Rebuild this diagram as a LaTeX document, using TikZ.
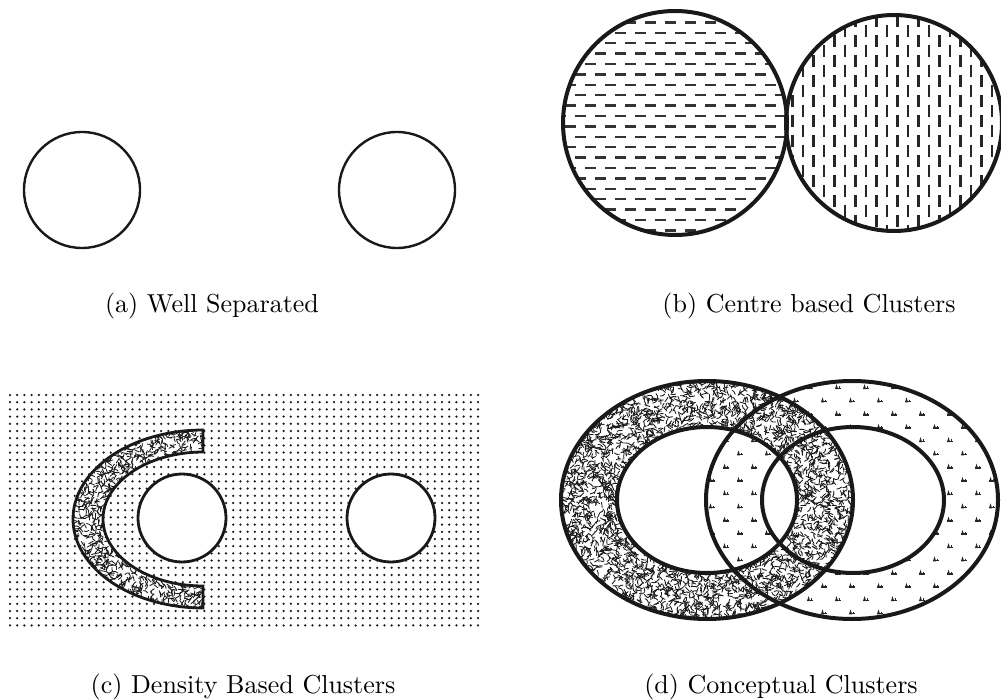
\documentclass[tikz,border=0pt]{standalone}
\begin{document}
\begin{tikzpicture}[x=1pt,y=-1pt,
  outa/.style={line width=2.4pt, draw=black!90},
  outb/.style={line width=4pt, draw=black!90},
  outc/.style={line width=2.8pt, draw=black!90},
  outd/.style={line width=4pt, draw=black!90},
  hdash/.style={line width=2.3pt, draw=black!80, dash pattern=on 11pt off 9pt},
  vdash/.style={line width=2.3pt, draw=black!85, dash pattern=on 12pt off 8pt},
  dotrow/.style={line width=2.5pt, draw=black!90, line cap=round, dash pattern=on 0pt off 7.2pt},
  tex/.style={line width=0.85pt, draw=black!90, line cap=round, line join=round},
  mk/.style={fill=black!85},
  captext/.style={inner sep=0pt, anchor=base, scale=2.6, font=\fontsize{10}{12}\selectfont}]
\useasboundingbox (0,0) rectangle (1001,700);

% ---------- (a)
\draw[outa] (82,190) circle (58);
\draw[outa] (397,190) circle (58);
\node[captext] (capa) at (212,313) {(a) Well Separated};

% ---------- (b)
\begin{scope}
  \clip (675,123) circle (112);
  \foreach \j in {0,...,22} {
    \pgfmathsetmacro\yy{12+10.4*\j}
    \pgfmathsetmacro\ph{mod(\j,2)*10}
    \draw[hdash, dash phase=\ph pt] (555,\yy) -- (800,\yy);
  }
\end{scope}
\begin{scope}
  \clip (894,123) circle (108);
  \foreach \j in {0,...,22} {
    \pgfmathsetmacro\xx{782+10.5*\j}
    \pgfmathsetmacro\ph{mod(\j,2)*10}
    \draw[vdash, dash phase=\ph pt] (\xx,5) -- (\xx,245);
  }
\end{scope}
\draw[outb] (675,123) circle (112);
\draw[outb] (894,123) circle (108);
\node[captext] (capb) at (809,313) {(b) Centre based Clusters};

% ---------- (c)
\foreach \j in {0,...,32} {
  \pgfmathsetmacro\yy{395+7.2*\j}
  \draw[dotrow] (10,\yy) -- (483,\yy);
}
\fill[white] plot[domain=90:270,samples=80] ({203+130*cos(\x)},{519+89*sin(\x)})
   -- plot[domain=270:90,samples=80] ({203+100*cos(\x)},{519+67*sin(\x)}) -- cycle;
\begin{scope}
  \clip plot[domain=90:270,samples=80] ({203+130*cos(\x)},{519+89*sin(\x)})
   -- plot[domain=270:90,samples=80] ({203+100*cos(\x)},{519+67*sin(\x)}) -- cycle;
  \pgfmathsetseed{11}
  \foreach \i in {1,...,800} {
    \pgfmathsetmacro\ang{85+190*rnd}
    \pgfmathsetmacro\rr{sqrt(0.55+0.47*rnd)}
    \pgfmathsetmacro\dira{360*rnd}
    \pgfmathsetmacro\dirb{\dira+80*rnd-40}
    \draw[tex] ({203+131*\rr*cos(\ang)},{519+90*\rr*sin(\ang)}) -- ++(\dira:2.6) -- ++(\dirb:2.6);
  }
\end{scope}
\draw[outc] plot[domain=90:270,samples=80] ({203+130*cos(\x)},{519+89*sin(\x)})
   -- plot[domain=270:90,samples=80] ({203+100*cos(\x)},{519+67*sin(\x)}) -- cycle;
\draw[outc, fill=white] (182,518) circle (44);
\draw[outc, fill=white] (391,518) circle (44);
\node[captext] (capc) at (243,693) {(c) Density Based Clusters};

% ---------- (d)
\begin{scope}[even odd rule]
  \clip (852,500) ellipse [x radius=146, y radius=119]
        (852,500) ellipse [x radius=91, y radius=73];
  \foreach \j in {-1,...,18} {
    \foreach \i in {0,...,11} {
      \pgfmathsetmacro\mx{698+28*\i+14*mod(\j+2,2)}
      \pgfmathsetmacro\my{389+13.25*\j}
      \fill[mk] (\mx-3.4,\my) rectangle (\mx+3.4,\my-1.5);
      \fill[mk] (\mx-3,\my) -- (\mx-1.5,\my-4.8) -- (\mx+0.1,\my) -- cycle;
      \fill[mk] (\mx+0.9,\my) rectangle (\mx+1.8,\my-2.6);
    }
  }
\end{scope}
\fill[white, even odd rule] (707,500) ellipse [x radius=146, y radius=119]
                           (707,500) ellipse [x radius=90, y radius=73];
\begin{scope}[even odd rule]
  \clip (707,500) ellipse [x radius=146, y radius=119]
        (707,500) ellipse [x radius=90, y radius=73];
  \pgfmathsetseed{23}
  \foreach \i in {1,...,3200} {
    \pgfmathsetmacro\ang{360*rnd}
    \pgfmathsetmacro\rr{sqrt(0.34+0.68*rnd)}
    \pgfmathsetmacro\dira{360*rnd}
    \pgfmathsetmacro\dirb{\dira+80*rnd-40}
    \draw[tex] ({707+147*\rr*cos(\ang)},{500+120*\rr*sin(\ang)}) -- ++(\dira:2.6) -- ++(\dirb:2.6);
  }
\end{scope}
\draw[outd] (707,500) ellipse [x radius=146, y radius=119];
\draw[outd] (707,500) ellipse [x radius=90, y radius=73];
\draw[outd] (852,500) ellipse [x radius=146, y radius=119];
\draw[outd] (853,500) ellipse [x radius=91, y radius=73];
\node[captext] (capd) at (781,693) {(d) Conceptual Clusters};
\end{tikzpicture}
\end{document}
